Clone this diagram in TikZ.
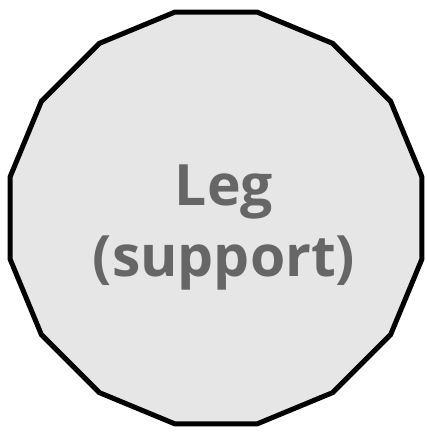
\documentclass[tikz,border=0pt]{standalone}
\usepackage{fontspec}
\setmainfont{Open Sans}
\usetikzlibrary{shapes.geometric}
\definecolor{legfill}{HTML}{E6E6E6}
\definecolor{legtext}{HTML}{666666}

\begin{document}
\begin{tikzpicture}[
  x=1pt, y=1pt,
  part/.style={regular polygon, regular polygon sides=16, draw=black,
    line width=5pt, fill=legfill, minimum size=420pt, inner sep=0pt},
  partlabel/.style={font=\fontsize{57}{71}\selectfont\bfseries,
    text=legtext, align=center, inner sep=0pt}
]
  \useasboundingbox (0,0) rectangle (427,433);

  \node[part] (leg) at (216,215) {};
  \node[partlabel] (legname) at (224,205) {Leg\\(support)};

\end{tikzpicture}
\end{document}
